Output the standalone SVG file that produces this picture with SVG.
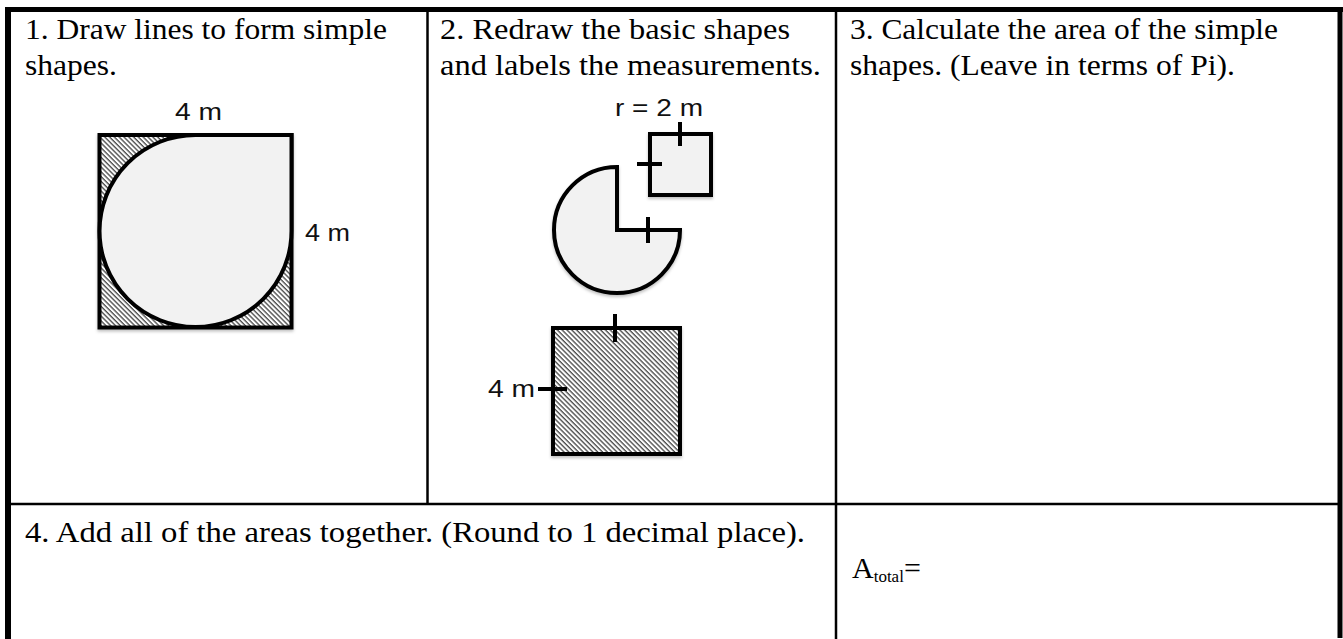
<svg xmlns="http://www.w3.org/2000/svg" width="1343" height="639" viewBox="0 0 1343 639">
<defs>
<pattern id="hatch" width="3.4" height="3.4" patternUnits="userSpaceOnUse" patternTransform="rotate(-45)">
<rect width="3.4" height="3.4" fill="#ffffff"/>
<line x1="1" y1="0" x2="1" y2="3.4" stroke="#333333" stroke-width="1.2"/>
</pattern>
<filter id="sd" x="-10%" y="-10%" width="120%" height="125%">
<feDropShadow dx="0" dy="2" stdDeviation="1.5" flood-color="#000" flood-opacity="0.25"/>
</filter>
<style>
.t{font-family:"Liberation Serif","Times New Roman",serif;font-size:30px;fill:#000}
.l{font-family:"Liberation Sans",Arial,sans-serif;font-size:23px;fill:#111}
.sh{stroke:#000;stroke-width:4;stroke-linejoin:miter}
.g{fill:#f2f2f2}
.h{fill:url(#hatch)}
.tick{stroke:#000;stroke-width:4;fill:none}
.tb{stroke:#000;fill:none}
</style>
</defs>
<rect width="1343" height="639" fill="#ffffff"/>

<g id="table">
<line class="tb" x1="5" y1="9.5" x2="1343" y2="9.5" stroke-width="5"/>
<line class="tb" x1="8" y1="7" x2="8" y2="639" stroke-width="6"/>
<line class="tb" x1="1340" y1="7" x2="1340" y2="638" stroke-width="5"/>
<line class="tb" x1="427.5" y1="12" x2="427.5" y2="504" stroke-width="2.5"/>
<line class="tb" x1="836" y1="12" x2="836" y2="639" stroke-width="2.5"/>
<line class="tb" x1="8" y1="504" x2="1340" y2="504" stroke-width="2.5"/>
</g>

<g id="cell1">
<text class="t" x="25" y="39" textLength="362" lengthAdjust="spacingAndGlyphs">1. Draw lines to form simple</text>
<text class="t" x="25" y="75" textLength="92" lengthAdjust="spacingAndGlyphs">shapes.</text>
</g>
<g id="cell2">
<text class="t" x="440" y="39" textLength="350" lengthAdjust="spacingAndGlyphs">2. Redraw the basic shapes</text>
<text class="t" x="440" y="75" textLength="381" lengthAdjust="spacingAndGlyphs">and labels the measurements.</text>
</g>
<g id="cell3">
<text class="t" x="850" y="39" textLength="428" lengthAdjust="spacingAndGlyphs">3. Calculate the area of the simple</text>
<text class="t" x="850" y="75" textLength="385" lengthAdjust="spacingAndGlyphs">shapes. (Leave in terms of Pi).</text>
</g>
<g id="cell4">
<text class="t" x="25" y="542" textLength="780" lengthAdjust="spacingAndGlyphs">4. Add all of the areas together. (Round to 1 decimal place).</text>
</g>
<g id="cell5">
<text class="t" x="852" y="578">A<tspan font-size="17" dy="4">total</tspan><tspan dy="-4">=</tspan></text>
</g>

<g id="shape1">
<g filter="url(#sd)">
<rect class="sh h" x="99.5" y="135" width="192" height="192.5"/>
<path class="sh g" d="M195.5 135 L291.5 135 L291.5 231 A96 96 0 1 1 195.5 135 Z"/>
</g>
<text class="l" x="175" y="120" textLength="47" lengthAdjust="spacingAndGlyphs">4 m</text>
<text class="l" x="305" y="241" textLength="45" lengthAdjust="spacingAndGlyphs">4 m</text>
</g>

<g id="shape2-square">
<rect class="sh g" x="650" y="134" width="61" height="61" filter="url(#sd)"/>
<line class="tick" x1="680" y1="122" x2="680" y2="146"/>
<line class="tick" x1="637" y1="164" x2="662" y2="164"/>
<text class="l" x="615" y="116" textLength="88" lengthAdjust="spacingAndGlyphs">r = 2 m</text>
</g>

<g id="shape2-sector">
<path class="sh g" d="M617 167 L617 230 L680 230 A63 63 0 1 1 617 167 Z" filter="url(#sd)"/>
<line class="tick" x1="648" y1="217" x2="648" y2="243"/>
</g>

<g id="shape2-hatched-square">
<rect class="sh h" x="553" y="328" width="127" height="126" filter="url(#sd)"/>
<line class="tick" x1="615" y1="314" x2="615" y2="342"/>
<line class="tick" x1="538" y1="389" x2="567" y2="389"/>
<text class="l" x="488" y="397" textLength="47" lengthAdjust="spacingAndGlyphs">4 m</text>
</g>
</svg>
